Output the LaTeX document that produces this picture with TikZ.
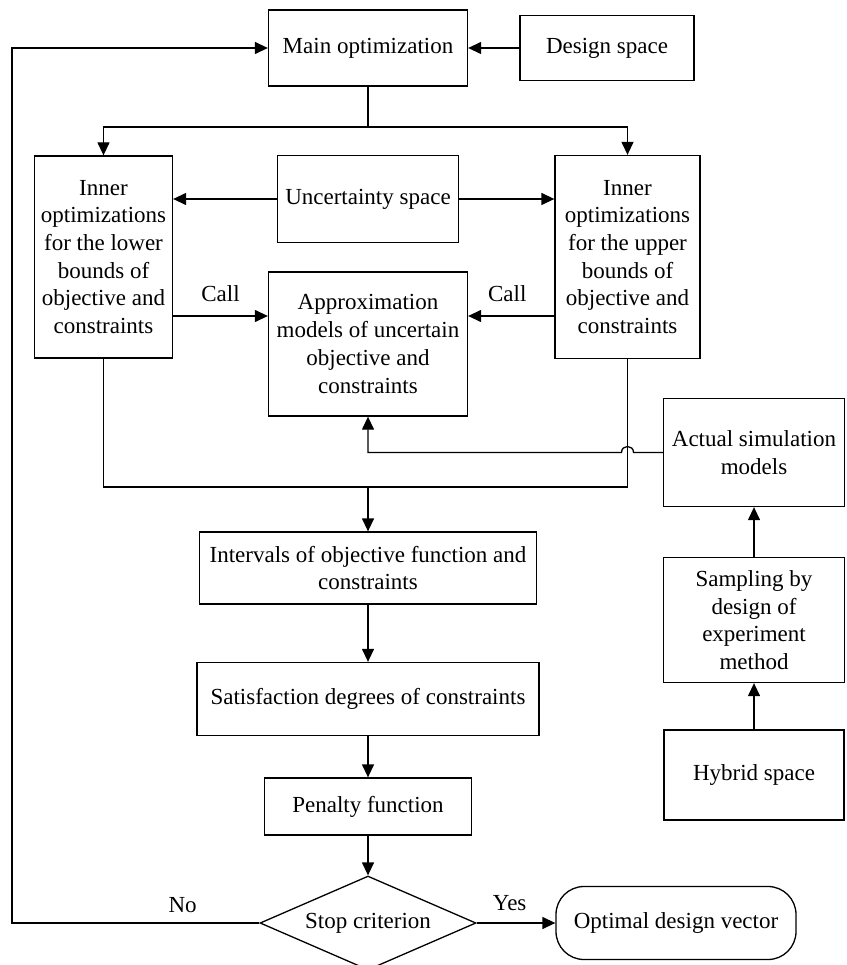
\documentclass[tikz,border=0pt]{standalone}
\usepackage{fontspec}
\setmainfont{Liberation Serif}
\usetikzlibrary{shapes.geometric,arrows.meta}
\begin{document}
\begin{tikzpicture}[x=1pt,y=-1pt,line width=1.3pt,
    box/.style={draw,align=center,inner sep=2pt,font=\fontsize{23}{27.7}\selectfont},
    arr/.style={-{Triangle[length=13pt,width=12pt]}},
    lbl/.style={font=\fontsize{23}{27.7}\selectfont,inner sep=2pt}]
    \useasboundingbox (0,0) rectangle (846,965);
    \node[box,minimum width=199,minimum height=76] (main) at (368,48) {Main optimization};
    \node[box,minimum width=174,minimum height=65] (design) at (607,48) {Design space};
    \node[box,minimum width=138,minimum height=202] (lower) at (103.5,257)
        {Inner\\optimizations\\for the lower\\bounds of\\objective and\\constraints};
    \node[box,minimum width=181,minimum height=87] (unc) at (368,199) {Uncertainty space};
    \node[box,minimum width=145,minimum height=203] (upper) at (627.5,257)
        {Inner\\optimizations\\for the upper\\bounds of\\objective and\\constraints};
    \node[box,minimum width=199,minimum height=144] (approx) at (368,344)
        {Approximation\\models of uncertain\\objective and\\constraints};
    \node[box,minimum width=181,minimum height=108] (actual) at (754,452.5) {Actual simulation\\models};
    \node[box,minimum width=181,minimum height=125] (sampling) at (754,620)
        {Sampling by\\design of\\experiment\\method};
    \node[box,minimum width=180,minimum height=90] (hybrid) at (754,775) {Hybrid space};
    \node[box,minimum width=337,minimum height=72] (intervals) at (368,568)
        {Intervals of objective function and\\constraints};
    \node[box,minimum width=342,minimum height=73] (satis) at (368,699) {Satisfaction degrees of constraints};
    \node[box,minimum width=207,minimum height=57] (penalty) at (368,806.5) {Penalty function};
    \node[box,diamond,aspect=2.3,minimum width=216,minimum height=94] (stop) at (368,923) {Stop criterion};
    \node[box,rounded corners=28,minimum width=240,minimum height=73] (opt) at (676,923) {Optimal design vector};
    \coordinate (split) at (368,127);
    \coordinate (collect) at (368,487);
    \coordinate (back) at (12,923);
    \coordinate (callL) at ([yshift=28pt]approx.west);
    \coordinate (callR) at ([yshift=28pt]approx.east);
    \draw[arr] (design.west) -- (main.east);
    \draw[arr] (stop.west) -- node[lbl,above=8pt,pos=0.31] {No} (back) |- (main.west);
    \draw (main.south) -- (split);
    \draw[arr] (split) -| (lower.north);
    \draw[arr] (split) -| (upper.north);
    \draw[arr] (unc.west) -- (unc.west -| lower.east);
    \draw[arr] (unc.east) -- (unc.east -| upper.west);
    \draw[arr] (callL -| lower.east) -- node[lbl,above=12pt] {Call} (callL);
    \draw[arr] (callR -| upper.west) -- node[lbl,above=12pt,xshift=-4pt] {Call} (callR);
    \draw (lower.south) |- (collect) -| (upper.south);
    \draw[arr] (collect) -- (intervals.north);
    \draw[arr] (actual.west) -- ([xshift=6pt]upper.south |- actual.west)
        .. controls +(0,-8) and +(0,-8) .. ++(-12,0) -| (approx.south);
    \draw[arr] (intervals.south) -- (satis.north);
    \draw[arr] (satis.south) -- (penalty.north);
    \draw[arr] (penalty.south) -- (stop.north);
    \draw[arr] (stop.east) -- node[lbl,above=10pt,pos=0.42] {Yes} (opt.west);
    \draw[arr] (hybrid.north) -- (sampling.south);
    \draw[arr] (sampling.north) -- (actual.south);
\end{tikzpicture}
\end{document}
